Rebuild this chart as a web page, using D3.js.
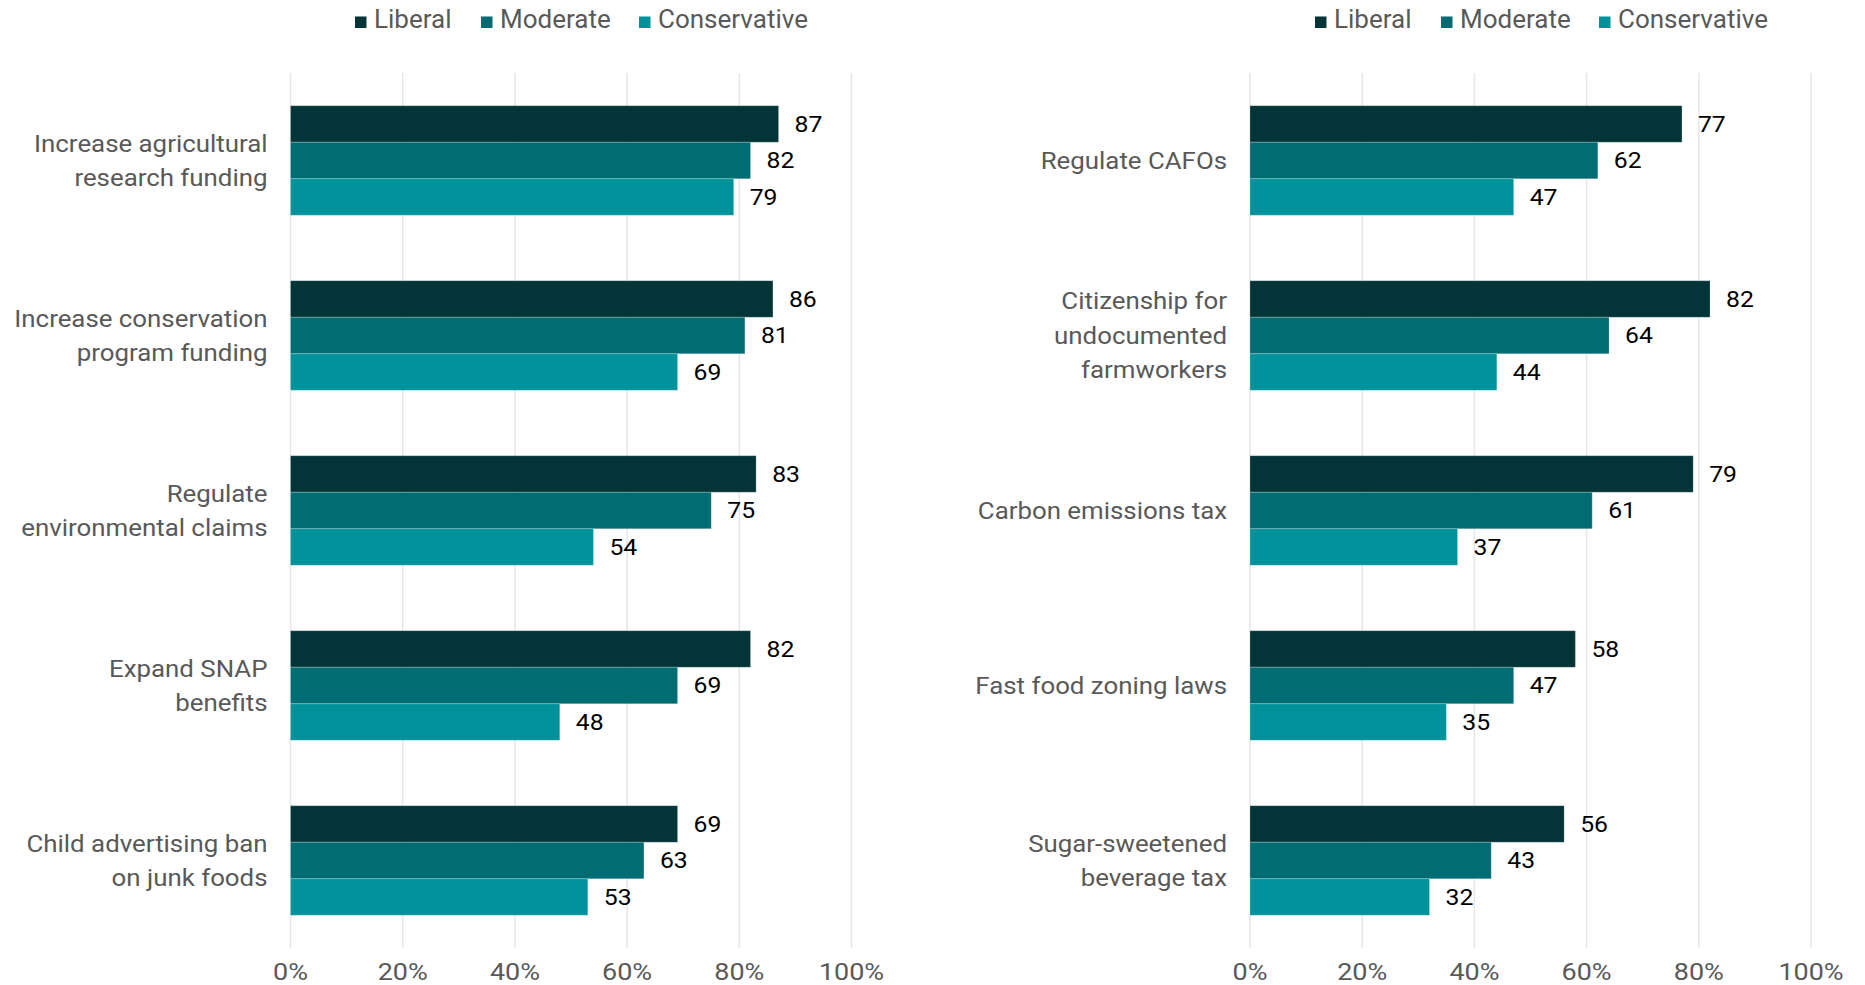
<!DOCTYPE html>
<html>
<head>
<meta charset="utf-8">
<script src="https://cdn.jsdelivr.net/npm/d3@7"></script>
<style>
  html, body { margin: 0; padding: 0; background: #ffffff; }
  svg { display: block; font-family: Roboto, "Noto Sans", sans-serif; }
</style>
</head>
<body>
<svg id="chart" width="1865" height="985"></svg>
<script>
// Support (%) for food and farm policies, by political ideology
const series = ["Liberal", "Moderate", "Conservative"];
const seriesColors = ["#033437", "#016c72", "#00929b"];

const leftCategories = [
  "Increase agricultural\nresearch funding",
  "Increase conservation\nprogram funding",
  "Regulate\nenvironmental claims",
  "Expand SNAP\nbenefits",
  "Child advertising ban\non junk foods"
];
const leftLiberal      = [87, 86, 83, 82, 69];
const leftModerate     = [82, 81, 75, 69, 63];
const leftConservative = [79, 69, 54, 48, 53];

const rightCategories = [
  "Regulate CAFOs",
  "Citizenship for\nundocumented\nfarmworkers",
  "Carbon emissions tax",
  "Fast food zoning laws",
  "Sugar-sweetened\nbeverage tax"
];
const rightLiberal      = [77, 82, 79, 58, 56];
const rightModerate     = [62, 64, 61, 47, 43];
const rightConservative = [47, 44, 37, 35, 32];

const tickValues = [0, 20, 40, 60, 80, 100];
const tickLabels = ["0%", "20%", "40%", "60%", "80%", "100%"];

const svg = d3.select("#chart");
const STRETCH = 1.1;          // horizontal stretch of axis / value text
const GRAY = "#595959";

function drawPanel(cfg) {
  const g = svg.append("g");
  const x = d3.scaleLinear().domain([0, 100]).range([cfg.x0, cfg.x1]);
  const y = d3.scaleBand().domain(cfg.categories)
    .range([73, 948]).paddingInner(0.374).paddingOuter(0.187);
  const ySub = d3.scaleBand().domain(series).range([0, y.bandwidth()]);

  // vertical gridlines
  g.append("g").selectAll("line").data(tickValues).join("line")
    .attr("x1", d => x(d)).attr("x2", d => x(d))
    .attr("y1", 73).attr("y2", 948)
    .attr("stroke", "#e6e6e6").attr("stroke-width", 1.5);

  // tick labels
  g.append("g").selectAll("text").data(tickValues).join("text")
    .attr("transform", d => `translate(${x(d)},980) scale(${STRETCH},1)`)
    .attr("text-anchor", "middle")
    .attr("font-size", 24.5).attr("fill", GRAY)
    .text((d, i) => tickLabels[i]);

  const rows = cfg.categories.map((c, i) => ({
    cat: c,
    vals: series.map((s, j) => ({ s, color: seriesColors[j], v: cfg.values[j][i] }))
  }));

  const grp = g.append("g").selectAll("g").data(rows).join("g")
    .attr("transform", d => `translate(0,${y(d.cat)})`);

  grp.selectAll("rect").data(d => d.vals).join("rect")
    .attr("x", x(0))
    .attr("y", d => ySub(d.s))
    .attr("width", d => x(d.v) - x(0))
    .attr("height", ySub.bandwidth())
    .attr("fill", d => d.color)
    .attr("stroke", "#ffffff").attr("stroke-opacity", 0.22).attr("stroke-width", 1);

  const vfs = 22.5;
  grp.selectAll("text.val").data(d => d.vals).join("text")
    .attr("class", "val")
    .attr("transform", d => `translate(${x(d.v) + 16},${ySub(d.s) + ySub.bandwidth() / 2 + vfs * 0.355}) scale(${STRETCH},1)`)
    .attr("font-size", vfs).attr("fill", "#000000")
    .text(d => d.v);

  // category labels, right-aligned, multi-line
  const fs = 23.5, lh = 34.5;
  const labels = g.append("g").selectAll("text").data(cfg.categories).join("text")
    .attr("text-anchor", "end")
    .attr("font-size", fs).attr("fill", GRAY)
    .attr("transform", d => {
      const lines = d.split("\n");
      const cy = y(d) + y.bandwidth() / 2;
      const first = cy - (lines.length - 1) * lh / 2 + fs * 0.355;
      return `translate(${cfg.x0 - 23},${first}) scale(${STRETCH},1)`;
    });
  labels.each(function(d) {
    d3.select(this).selectAll("tspan").data(d.split("\n")).join("tspan")
      .attr("x", 0).attr("dy", (t, i) => i === 0 ? 0 : lh)
      .text(t => t);
  });

  // legend
  const lg = g.append("g");
  series.forEach((s, j) => {
    lg.append("rect")
      .attr("x", cfg.legendX[j]).attr("y", 16.5)
      .attr("width", 11.5).attr("height", 11.5)
      .attr("fill", seriesColors[j]);
    lg.append("text")
      .attr("x", cfg.legendX[j] + 19).attr("y", 27.5)
      .attr("font-size", 26).attr("fill", GRAY)
      .text(s);
  });
}

drawPanel({
  x0: 290.5, x1: 851.5,
  categories: leftCategories,
  values: [leftLiberal, leftModerate, leftConservative],
  legendX: [355, 481, 639]
});

drawPanel({
  x0: 1250, x1: 1811,
  categories: rightCategories,
  values: [rightLiberal, rightModerate, rightConservative],
  legendX: [1315, 1441, 1599]
});
</script>
</body>
</html>
